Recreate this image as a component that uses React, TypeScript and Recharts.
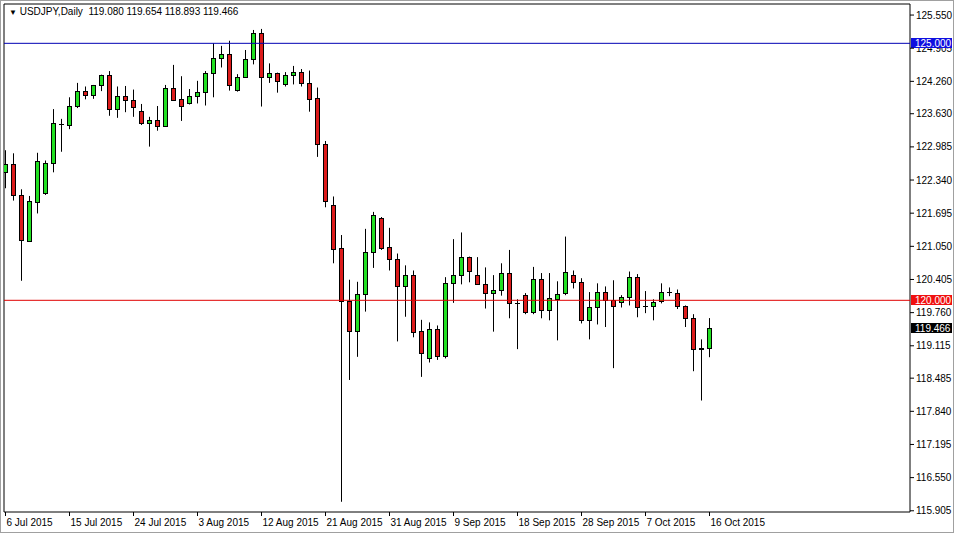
import React from 'react';
import { ComposedChart, Bar, XAxis, YAxis, ReferenceLine, ReferenceArea } from 'recharts';

// USDJPY daily candles
const opens = [
  122.49, 122.65, 122.04, 121.15, 121.92, 122.09, 122.67, 123.43, 123.42, 123.79,
  124.07, 123.99, 124.18, 124.38, 123.72, 123.97, 123.9, 123.68, 123.44, 123.51,
  123.4, 124.14, 123.91, 123.83, 123.97, 124.05, 124.42, 124.71, 124.79, 124.09,
  124.35, 124.69, 125.21, 124.35, 124.42, 124.2, 124.38, 124.44, 124.22, 123.93,
  123.05, 121.85, 121.01, 119.99, 119.4, 120.12, 120.94, 121.6, 121.03, 120.8,
  120.27, 120.49, 119.4, 118.87, 119.44, 118.91, 120.33, 120.49, 120.84, 120.49,
  120.31, 120.14, 120.2, 120.53, 119.94, 120.1, 119.77, 120.41, 119.81, 120.02,
  120.14, 120.49, 120.35, 119.61, 119.86, 120.16, 120.0, 119.96, 120.06, 120.45,
  119.88, 119.88, 119.98, 120.16, 120.14, 119.88, 119.65, 119.05, 119.08,
];
const highs = [
  122.92, 122.86, 122.16, 122.03, 122.87, 122.72, 123.72, 123.53, 123.95, 124.23,
  124.16, 124.19, 124.39, 124.46, 124.16, 124.17, 124.1, 123.82, 123.57, 123.78,
  124.19, 124.58, 124.36, 124.11, 124.27, 124.46, 125.0, 124.95, 125.05, 124.4,
  124.87, 125.26, 125.28, 124.61, 124.43, 124.44, 124.56, 124.5, 124.47, 124.14,
  123.1, 122.02, 121.27, 120.4, 120.36, 121.39, 121.72, 121.62, 121.41, 120.91,
  120.68, 120.58, 119.62, 119.57, 119.51, 120.45, 121.19, 121.32, 120.85, 120.84,
  120.64, 120.49, 120.72, 120.98, 120.02, 120.14, 120.65, 120.53, 120.53, 120.37,
  121.24, 120.58, 120.43, 120.16, 120.33, 120.27, 120.39, 120.1, 120.56, 120.51,
  120.18, 120.02, 120.33, 120.25, 120.21, 119.9, 119.73, 119.24, 119.654,
];
const lows = [
  122.18, 121.94, 120.38, 121.14, 121.69, 122.05, 122.49, 122.89, 123.33, 123.74,
  123.91, 123.92, 124.07, 123.59, 123.55, 123.66, 123.57, 123.41, 122.99, 123.3,
  123.38, 123.88, 123.49, 123.81, 123.83, 123.79, 123.95, 124.53, 124.08, 124.06,
  124.33, 124.59, 123.77, 124.23, 124.04, 124.16, 124.2, 124.16, 123.67, 122.79,
  121.81, 120.72, 116.08, 118.45, 118.9, 119.78, 120.63, 120.98, 120.58, 119.2,
  119.68, 119.28, 118.51, 118.79, 118.84, 118.87, 119.95, 120.31, 120.35, 120.31,
  119.84, 119.39, 120.09, 119.65, 119.05, 119.73, 119.73, 119.65, 119.61, 119.22,
  120.1, 120.23, 119.55, 119.24, 119.53, 119.48, 118.68, 119.86, 119.9, 119.67,
  119.75, 119.61, 119.94, 120.08, 119.83, 119.48, 118.62, 118.05, 118.893,
];
const closes = [
  122.65, 122.04, 121.17, 121.93, 122.72, 122.67, 123.44, 123.43, 123.79, 124.07,
  123.99, 124.18, 124.38, 123.72, 123.97, 123.89, 123.76, 123.44, 123.51, 123.4,
  124.14, 123.9, 123.79, 123.97, 124.05, 124.42, 124.71, 124.79, 124.18, 124.35,
  124.69, 125.21, 124.35, 124.42, 124.27, 124.38, 124.44, 124.22, 123.92, 123.05,
  121.94, 121.0, 119.98, 119.4, 120.12, 120.94, 121.66, 121.02, 120.8, 120.27,
  120.49, 119.39, 118.98, 119.44, 118.92, 120.33, 120.49, 120.84, 120.57, 120.32,
  120.14, 120.2, 120.53, 119.94, 119.94, 119.77, 120.41, 119.81, 120.04, 120.12,
  120.55, 120.35, 119.61, 119.86, 120.16, 120.0, 119.88, 120.06, 120.45, 119.86,
  119.88, 119.96, 120.16, 120.16, 119.88, 119.65, 119.05, 119.08, 119.466,
];

const dateLabels = [
  '6 Jul 2015', '15 Jul 2015', '24 Jul 2015', '3 Aug 2015', '12 Aug 2015', '21 Aug 2015',
  '31 Aug 2015', '9 Sep 2015', '18 Sep 2015', '28 Sep 2015', '7 Oct 2015', '16 Oct 2015',
];
const dateTicks = [0, 8, 16, 24, 32, 40, 48, 56, 64, 72, 80, 88];

const priceTicks = [
  125.55, 124.905, 124.26, 123.63, 122.985, 122.34, 121.695, 121.05,
  120.405, 119.76, 119.115, 118.485, 117.84, 117.195, 116.55, 115.905,
];
const blueLevel = 125.0;
const redLevel = 120.0;
const lastPrice = 119.466;

const data = opens.map((o, i) => ({
  i,
  open: o,
  high: highs[i],
  low: lows[i],
  close: closes[i],
}));

const FONT = '"Liberation Sans", Arial, sans-serif';
const GREEN = '#22e022';
const RED = '#dc1b1b';
const X_DOMAIN: [number, number] = [-0.125, 113.125];
const Y_DOMAIN: [number, number] = [115.881, 125.765];

const Candle = (props: any) => {
  const { x, y, width, height, payload } = props;
  if (!payload || height == null) return null;
  const { open, high, low, close } = payload;
  const span = high - low || 1;
  const yOf = (p: number) => y + ((high - p) / span) * height;
  const col = Math.round(x + width / 2);
  const cx = col + 0.5;
  const top = Math.round(yOf(Math.max(open, close)));
  const bot = Math.round(yOf(Math.min(open, close)));
  const up = close >= open;
  return (
    <g>
      <line x1={cx} x2={cx} y1={y} y2={y + height} stroke="#000" strokeWidth={1} />
      {bot - top < 1 ? (
        <line x1={col - 2} x2={col + 3} y1={top + 0.5} y2={top + 0.5} stroke="#000" strokeWidth={1} />
      ) : (
        <rect x={col - 1.5} y={top + 0.5} width={4} height={bot - top} fill={up ? GREEN : RED} stroke="#000" strokeWidth={1} />
      )}
    </g>
  );
};

const DateTick = (props: any) => {
  const { x, y, payload } = props;
  const idx = dateTicks.indexOf(payload.value);
  const px = Math.round(x) + 0.5;
  return (
    <g>
      <line x1={px} x2={px} y1={y} y2={y + 4} stroke="#000" />
      <text x={px + 1} y={y + 14} textAnchor="start" fontSize={10} fontFamily={FONT} fill="#000">
        {dateLabels[idx]}
      </text>
    </g>
  );
};

// the 124.905 tick sits mostly under the 125.000 level box, as in the terminal
const PriceTick = (props: any) => {
  const { x, y, payload } = props;
  const hidden = Math.abs(payload.value - 124.905) < 0.001;
  return (
    <text
      x={x}
      y={y}
      dy="0.355em"
      textAnchor="start"
      fontSize={10}
      fontFamily={FONT}
      fill="#000"
      clipPath={hidden ? 'url(#under-box)' : undefined}
    >
      {payload.value.toFixed(3)}
    </text>
  );
};

const priceBox = (value: number, bg: string) => (props: any) => {
  const vb = props.viewBox || {};
  const yy = Math.round(vb.y);
  const left = vb.x + vb.width + 1;
  return (
    <g>
      <rect x={left} y={yy - 5} width={41} height={10} fill={bg} />
      <text x={left + 4} y={yy + 4} fontSize={10} fontFamily={FONT} fill="#fff">
        {value.toFixed(3)}
      </text>
    </g>
  );
};

export default function App() {
  return (
    <div style={{ position: 'absolute', left: 0, top: 0, width: 954, height: 533, background: '#fff' }}>
      <ComposedChart
        width={954}
        height={533}
        data={data}
        margin={{ top: 4, right: 0, left: 4, bottom: 0 }}
      >
        <defs>
          <clipPath id="under-box">
            <rect x={900} y={48} width={54} height={10} />
          </clipPath>
        </defs>
        <XAxis
          dataKey="i"
          type="number"
          domain={X_DOMAIN}
          allowDataOverflow
          ticks={dateTicks}
          interval={0}
          height={21}
          tickSize={0}
          tickMargin={0}
          axisLine={false}
          tick={<DateTick />}
        />
        <YAxis
          orientation="right"
          type="number"
          domain={Y_DOMAIN}
          allowDataOverflow
          ticks={priceTicks}
          interval={0}
          width={44}
          tickSize={4}
          tickMargin={2}
          axisLine={false}
          tickLine={{ stroke: '#000' }}
          tick={<PriceTick />}
        />
        <ReferenceArea
          x1={X_DOMAIN[0]}
          x2={X_DOMAIN[1]}
          y1={Y_DOMAIN[0]}
          y2={Y_DOMAIN[1]}
          fill="none"
          stroke="#000"
          strokeWidth={1}
          ifOverflow="visible"
        />
        <Bar
          dataKey={(d: any) => [d.low, d.high]}
          barSize={6}
          shape={Candle}
          isAnimationActive={false}
        />
        <ReferenceLine y={blueLevel} stroke="#0000b4" strokeWidth={1} label={priceBox(blueLevel, '#0f0fe0')} />
        <ReferenceLine y={redLevel} stroke="#e00000" strokeWidth={1} label={priceBox(redLevel, '#f01010')} />
        <ReferenceLine y={lastPrice} stroke="none" label={priceBox(lastPrice, '#000')} />
      </ComposedChart>
      <div
        style={{
          position: 'absolute',
          left: 9,
          top: 6,
          fontFamily: FONT,
          fontSize: 10,
          color: '#000',
          whiteSpace: 'pre',
        }}
      >
        <span style={{ fontSize: 8 }}>▼</span> USDJPY,Daily  119.080 119.654 118.893 119.466
      </div>
      <div
        style={{
          position: 'absolute',
          left: 0,
          top: 0,
          width: 954,
          height: 533,
          boxSizing: 'border-box',
          border: '1px solid #a0a0a0',
          pointerEvents: 'none',
        }}
      />
    </div>
  );
}
